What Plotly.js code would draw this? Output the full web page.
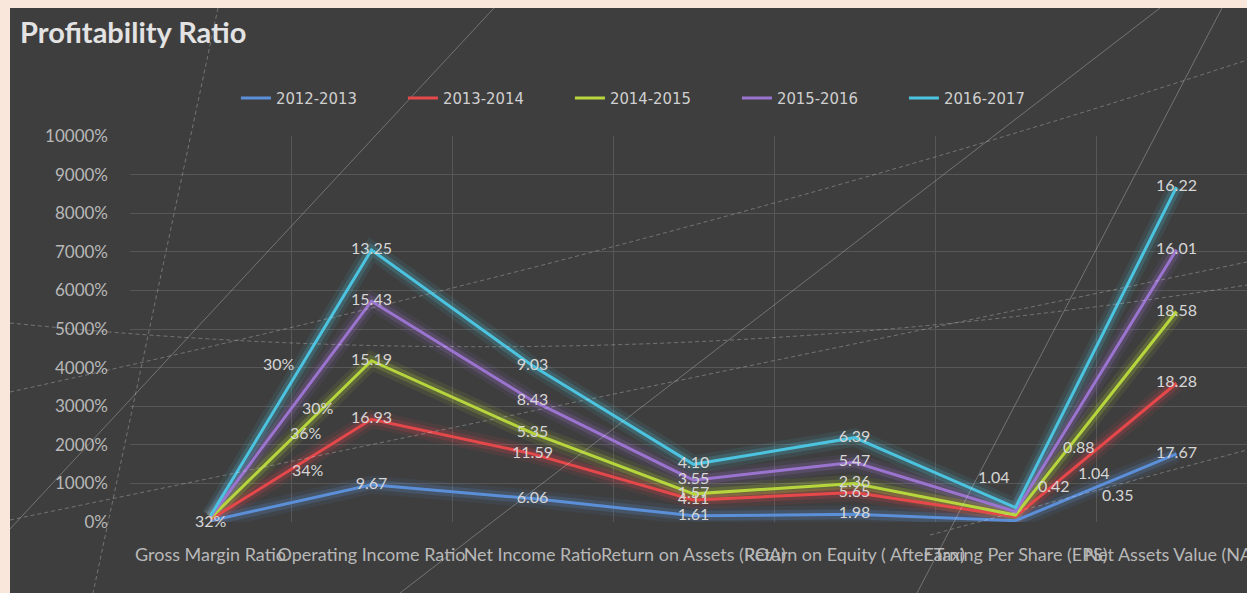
<!DOCTYPE html>
<html><head><meta charset="utf-8">
<script src="https://cdn.plot.ly/plotly-3.0.1.min.js"></script>
<style>
html,body{margin:0;padding:0;overflow:hidden;background:#f9e7dc;width:1247px;height:593px;}
#chart{position:absolute;left:10px;top:8px;width:1252px;height:585px;}
</style></head><body><div id="chart"></div>
<script>
// ---- data ----
const categories = ['Gross Margin Ratio','Operating Income Ratio','Net Income Ratio','Return on Assets (ROA)','Return on Equity ( After Tax)','Earning Per Share (EPS)','Net Assets Value (NAV)'];
const seriesNames = ['2012-2013','2013-2014','2014-2015','2015-2016','2016-2017'];
const v2012_13 = [0.32, 9.67, 6.06, 1.61, 1.98, 0.35, 17.67];
const v2013_14 = [0.34, 16.93, 11.59, 4.11, 5.65, 1.04, 18.28];
const v2014_15 = [0.36, 15.19, 5.35, 1.57, 2.36, 0.42, 18.58];
const v2015_16 = [0.30, 15.43, 8.43, 3.55, 5.47, 0.88, 16.01];
const v2016_17 = [0.30, 13.25, 9.03, 4.10, 6.39, 1.04, 16.22];
const yTickVals = [0,10,20,30,40,50,60,70,80,90,100];

// ---- style ----
const colors = ['#5b8fd8','#e5484b','#b7d53c','#9b74cf','#4cc3df'];
const seriesValues = [v2012_13, v2013_14, v2014_15, v2015_16, v2016_17];
// pixel shifts for manually moved data labels (category index -> [dx, dy])
const labelShift = [
  {0:[0,0],   5:[102,26]},
  {0:[97,50], 5:[78,44]},
  {0:[95,86], 5:[38,30]},
  {0:[107,109],5:[63,65]},
  {0:[68,152],5:[-22,31]}
];
const FONT = 'Lato, "Open Sans", sans-serif';

function fmt(i, v){ return i===0 ? Math.round(v*100)+'%' : v.toFixed(2); }

const traces = [];
// glow layers
[18,10].forEach((w,k)=>{
  seriesValues.forEach((vals,s)=>{
    traces.push({x:categories, y:vals, type:'scatter', mode:'lines', stackgroup:'glow'+k, fill:'none',
      line:{color:colors[s], width:w}, opacity:k===0?0.09:0.2, showlegend:false, hoverinfo:'skip'});
  });
});
// main lines
seriesValues.forEach((vals,s)=>{
  const txt = vals.map((v,i)=> (labelShift[s][i]!==undefined) ? '' : fmt(i,v));
  traces.push({x:categories, y:vals, type:'scatter', mode:'lines+text', stackgroup:'main', fill:'none',
    name:seriesNames[s], line:{color:colors[s], width:3}, text:txt, textposition:'middle center',
    textfont:{family:FONT, size:16, color:'#d6d6d6'}});
});

// annotations for moved labels
const annotations = [];
const cum = categories.map(()=>0);
seriesValues.forEach((vals,s)=>{
  vals.forEach((v,i)=>{
    cum[i]+=v;
    const sh = labelShift[s][i];
    if(sh!==undefined){
      annotations.push({x:categories[i], y:cum[i], text:fmt(i,v), showarrow:false,
        xshift:sh[0], yshift:sh[1], font:{family:FONT, size:16, color:'#d6d6d6'}});
    }
  });
});

// decorative thin background lines of the slide (page pixel coords -> paper coords)
function P(px,py){ return [(px-130)/1127, (522-py)/386]; }
const DEC = 'rgba(225,225,225,0.33)';
function seg(a,b,dash){ const p=P(a[0],a[1]), q=P(b[0],b[1]);
  return {type:'line', xref:'paper', yref:'paper', x0:p[0], y0:p[1], x1:q[0], y1:q[1], layer:'above',
    line:{color:DEC, width:1, dash:dash?'4px,3px':'solid'}}; }
function curve(pts,dash){ const s=pts.map(pt=>P(pt[0],pt[1]));
  let path='M '+s[0][0]+' '+s[0][1]+' Q '+s[1][0]+' '+s[1][1]+' '+s[2][0]+' '+s[2][1];
  return {type:'path', xref:'paper', yref:'paper', path:path, layer:'above',
    line:{color:DEC, width:1, dash:dash?'4px,3px':'solid'}}; }
const shapes = [
  seg([218,8],[93,593],true),
  seg([10,529],[494,8],false),
  curve([[10,323],[620,385],[1247,285]],true),
  curve([[10,392],[700,240],[1247,60]],true),
  seg([10,520],[1247,262],true),
  seg([1160,8],[400,593],false),
  seg([1222,8],[917,593],false),
  seg([930,535],[1247,450],true)
];

const layout = {
  width:1252, height:585,
  paper_bgcolor:'#3e3e3e', plot_bgcolor:'#3e3e3e',
  margin:{l:120, r:5, t:128, b:71},
  title:{text:'<b>Profitability Ratio</b>', x:0.008, xanchor:'left', y:0.957, yanchor:'middle',
    font:{family:FONT, size:29, color:'#e3e3e3'}},
  showlegend:true,
  legend:{orientation:'h', x:0.094, xanchor:'left', y:1.098, yanchor:'middle',
    font:{family:'"DejaVu Sans Condensed", "Liberation Sans Narrow", Lato, sans-serif', size:16.5, color:'#d0d0d0'},
    entrywidth:122, entrywidthmode:'pixels', bgcolor:'rgba(0,0,0,0)'},
  xaxis:{type:'category', range:[-0.5,6.5], tickson:'boundaries', showgrid:true, gridcolor:'#575757', gridwidth:1,
    ticks:'', tickangle:0, ticklabelstandoff:20, tickfont:{family:FONT, size:18, color:'#b8b8b8'},
    showline:false, zeroline:false, automargin:false},
  yaxis:{range:[0,100], tickvals:yTickVals, tickformat:'.0%', showgrid:true, gridcolor:'#575757', gridwidth:1,
    ticks:'', ticklabelstandoff:21, tickfont:{family:FONT, size:17, color:'#b8b8b8'},
    zeroline:false, showline:false, automargin:false},
  annotations:annotations,
  shapes:shapes,
  hovermode:false
};
Plotly.newPlot('chart', traces, layout, {displayModeBar:false, staticPlot:true});
</script></body></html>
